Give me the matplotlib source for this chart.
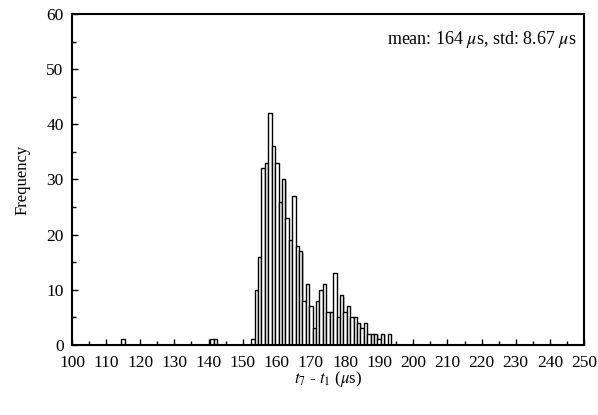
import numpy as np
import matplotlib.pyplot as plt
from matplotlib.ticker import MultipleLocator

plt.rcParams['font.family'] = ['Liberation Serif', 'DejaVu Serif']
plt.rcParams['mathtext.fontset'] = 'stix'

# histogram counts, 1 us bins centred on integers
bin_centers = [115, 141, 142,
               153, 154, 155, 156, 157, 158, 159, 160, 161, 162,
               163, 164, 165, 166, 167, 168, 169, 170, 171, 172,
               173, 174, 175, 176, 177, 178, 179, 180, 181, 182,
               183, 184, 185, 186, 187, 188, 189, 190, 191, 193]
counts = [1, 1, 1,
          1, 10, 16, 32, 33, 42, 36, 33, 26, 30,
          23, 19, 27, 18, 17, 8, 11, 7, 3, 8,
          10, 11, 6, 6, 13, 5, 9, 6, 7, 5,
          5, 4, 3, 4, 2, 2, 2, 1, 2, 2]
mean_us = 164
std_us = 8.67

fig = plt.figure(figsize=(5.98, 4.15), dpi=100)
ax = fig.add_axes([0.1204, 0.1687, 0.8562, 0.7976])

x = np.array(bin_centers, dtype=float)
h = np.array(counts, dtype=float)

# light drop shadow, then white bars with black outline
ax.bar(x + 0.35, np.maximum(h - 0.25, 0), width=1.0, color='#c4c4c4',
       linewidth=0, zorder=1)
ax.bar(x, h, width=1.0, color='white', edgecolor='black', linewidth=1.0,
       zorder=2)

ax.set_xlim(100, 250)
ax.set_ylim(0, 60)
ax.xaxis.set_major_locator(MultipleLocator(10))
ax.xaxis.set_minor_locator(MultipleLocator(5))
ax.yaxis.set_major_locator(MultipleLocator(10))
ax.yaxis.set_minor_locator(MultipleLocator(5))
ax.tick_params(which='both', direction='in', top=False, right=False,
               labelsize=12.5, width=1.0)
ax.tick_params(axis='x', pad=7)
ax.tick_params(axis='y', pad=6)
ax.tick_params(which='major', length=4)
ax.tick_params(which='minor', length=3)
for s in ax.spines.values():
    s.set_linewidth(1.5)

ax.set_xlabel(r'$t_7$ - $t_1$ ($\mu$s)', fontsize=12, labelpad=-1)
ax.set_ylabel('Frequency', fontsize=12, labelpad=11)

ax.text(0.985, 0.955, rf'mean: {mean_us} $\mu$s, std: {std_us} $\mu$s',
        transform=ax.transAxes, ha='right', va='top', fontsize=13)

fig.savefig('out.png', dpi=100)
